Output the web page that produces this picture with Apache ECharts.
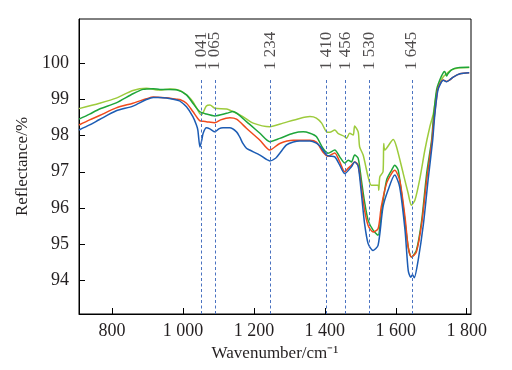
<!DOCTYPE html>
<html><head><meta charset="utf-8">
<script src="https://cdn.jsdelivr.net/npm/echarts@6/dist/echarts.min.js"></script>
<style>html,body{margin:0;padding:0;background:#fff}#c{width:512px;height:370px}</style>
</head><body><div id="c"></div>
<script>
// ---- data ----
const xTicks = [800, 1000, 1200, 1400, 1600, 1800];
const yTicks = [94, 95, 96, 97, 98, 99, 100];
const peakLabels = ['1 041', '1 065', '1 234', '1 410', '1 456', '1 530', '1 645'];
const peakLinePos = [1051, 1090, 1246, 1404, 1458, 1525, 1645];

const lgX = [707,765,812,859,897,935,963,991,1010,1028,1047,1052,1066,1076,1090,1123,1141,1169,1198,1245,1282,1329,1358,1376,1391,1405,1414,1428,1437,1456,1461,1470,1480,1484,1494,1498,1508,1522,1531,1550,1552,1555,1564,1566,1569,1593,1602,1621,1635,1644,1654,1668,1682,1696,1706,1715,1724,1734,1743,1757,1776,1807];
const lgY = [98.74,98.89,99.03,99.24,99.30,99.25,99.28,99.24,99.12,98.93,98.61,98.57,98.81,98.84,98.75,98.73,98.66,98.52,98.34,98.24,98.34,98.47,98.52,98.48,98.34,98.10,98.09,98.15,98.06,97.97,97.92,98.06,98.01,98.26,98.10,97.69,97.46,96.86,96.63,96.63,96.49,96.86,97.00,97.78,97.60,97.89,97.69,96.95,96.40,96.08,96.22,96.82,97.60,98.24,98.61,99.17,99.44,99.62,99.70,99.81,99.86,99.87];

const gX = [707,737,765,812,859,887,916,935,963,982,1010,1028,1047,1066,1090,1123,1141,1179,1217,1245,1273,1311,1339,1358,1376,1395,1409,1428,1442,1456,1466,1475,1484,1494,1503,1512,1522,1536,1550,1559,1574,1588,1597,1607,1621,1635,1644,1658,1673,1687,1701,1706,1715,1724,1734,1738,1743,1747,1757,1776,1807];
const gY = [98.45,98.59,98.73,98.90,99.15,99.27,99.29,99.27,99.27,99.26,99.12,98.89,98.66,98.59,98.54,98.61,98.66,98.38,98.06,97.83,97.92,98.06,98.10,98.06,97.97,97.64,97.51,97.60,97.41,97.24,97.32,97.27,97.46,97.37,96.77,96.17,95.66,95.39,95.25,95.85,96.77,97.04,97.18,97.04,96.03,94.92,94.65,94.83,95.66,96.95,97.87,98.48,99.26,99.53,99.73,99.76,99.64,99.70,99.81,99.87,99.88];

const rX = [707,737,765,812,859,897,916,935,953,982,991,1010,1028,1047,1057,1066,1090,1106,1132,1151,1179,1217,1245,1273,1311,1358,1376,1395,1409,1428,1442,1456,1466,1475,1484,1494,1503,1512,1522,1536,1550,1559,1574,1588,1597,1611,1626,1635,1644,1658,1673,1687,1701,1706,1715,1719,1734,1743,1752,1762,1781,1807];
const rY = [98.29,98.43,98.55,98.76,98.89,99.01,99.06,99.05,99.04,99.00,98.99,98.89,98.66,98.41,98.39,98.38,98.35,98.43,98.49,98.45,98.20,97.87,97.60,97.78,97.87,97.87,97.82,97.54,97.43,97.52,97.27,97.00,97.10,97.18,97.27,97.18,96.58,95.94,95.52,95.34,95.43,96.03,96.68,96.95,97.04,96.77,95.75,94.92,94.65,94.79,95.57,96.77,97.78,98.29,99.03,99.30,99.53,99.49,99.53,99.61,99.70,99.73];

const bX = [707,737,765,812,859,897,916,935,953,982,991,1010,1028,1038,1042,1048,1053,1057,1066,1076,1090,1101,1113,1132,1151,1160,1169,1179,1188,1217,1245,1262,1273,1292,1311,1329,1358,1376,1386,1405,1414,1428,1442,1456,1475,1484,1494,1503,1512,1522,1536,1550,1564,1578,1597,1611,1626,1635,1642,1647,1652,1663,1678,1691,1704,1710,1719,1734,1743,1752,1762,1781,1807];
const bY = [98.15,98.29,98.44,98.68,98.81,98.99,99.05,99.05,99.03,98.98,98.95,98.79,98.52,98.29,98.15,97.68,97.87,98.06,98.21,98.18,98.10,98.18,98.21,98.21,98.10,97.96,97.78,97.65,97.60,97.46,97.30,97.38,97.51,97.74,97.82,97.85,97.85,97.79,97.71,97.46,97.43,97.41,97.18,96.95,97.14,97.27,97.15,96.40,95.57,95.02,94.83,94.97,96.03,96.49,96.91,96.58,95.39,94.28,94.09,94.16,94.08,94.56,95.57,96.77,97.87,98.57,99.26,99.52,99.48,99.53,99.61,99.70,99.73];

// ---- chart ----
const X_MIN = 707, X_MAX = 1812, Y_MIN = 93.08, Y_MAX = 101.21;
const LINE_TOP = 99.59, LABEL_Y = 100.33;
const FONT = "'Liberation Serif','Times New Roman',serif";
const pair = (xs, ys) => xs.map((x, i) => [x, ys[i]]);
const fmtNum = v => String(v).replace(/\B(?=(\d{3})+(?!\d))/g, ' ');

const chart = echarts.init(document.getElementById('c'), null, {renderer: 'canvas'});
const lineSeries = (name, xs, ys, color) => ({
  name, type: 'line', data: pair(xs, ys), showSymbol: false, symbol: 'none',
  smooth: 0.25, lineStyle: {color, width: 1.5}, animation: false, z: 3
});

chart.setOption({
  animation: false,
  grid: {left: 79, right: 41, top: 19, bottom: 56, containLabel: false,
         show: true, borderColor: '#000', borderWidth: 1, backgroundColor: 'transparent'},
  xAxis: {
    type: 'value', min: X_MIN, max: X_MAX,
    name: 'Wavenumber/cm\u207B\u00B9', nameLocation: 'middle', nameGap: 30,
    nameTextStyle: {fontFamily: FONT, fontSize: 17, color: '#231f20'},
    axisLine: {show: true, lineStyle: {color: '#000', width: 1}},
    axisTick: {show: true, inside: true, length: 6, lineStyle: {color: '#000'}, customValues: xTicks},
    axisLabel: {fontFamily: FONT, fontSize: 18, color: '#231f20', margin: 8, customValues: xTicks, formatter: fmtNum},
    splitLine: {show: false}
  },
  yAxis: {
    type: 'value', min: Y_MIN, max: Y_MAX,
    name: 'Reflectance/%', nameLocation: 'middle', nameGap: 45,
    nameTextStyle: {fontFamily: FONT, fontSize: 17, color: '#231f20'},
    axisLine: {show: true, lineStyle: {color: '#000', width: 1}},
    axisTick: {show: true, inside: true, length: 6, lineStyle: {color: '#000'}, customValues: yTicks},
    axisLabel: {fontFamily: FONT, fontSize: 18, color: '#231f20', margin: 10, customValues: yTicks},
    splitLine: {show: false}
  },
  series: [
    {
      type: 'line', data: [], symbol: 'none', silent: true,
      markLine: {
        silent: true, symbol: 'none', animation: false,
        lineStyle: {color: '#4a72c0', width: 1, type: [3, 2.5]},
        label: {show: false},
        data: peakLinePos.map(x => [{coord: [x, Y_MIN]}, {coord: [x, LINE_TOP]}])
      }
    },
    {
      type: 'scatter', symbolSize: 0, silent: true, z: 5,
      data: peakLinePos.map((x, i) => ({name: peakLabels[i], value: [x, LABEL_Y]})),
      label: {show: true, position: 'inside', rotate: 90, formatter: p => p.name,
              fontFamily: FONT, fontSize: 17, color: '#231f20'}
    },
    lineSeries('A', lgX, lgY, '#9dcb3c'),
    lineSeries('B', gX, gY, '#1ea53a'),
    lineSeries('C', rX, rY, '#f04a1c'),
    lineSeries('D', bX, bY, '#1c5cb4')
  ]
});
</script>
</body></html>
